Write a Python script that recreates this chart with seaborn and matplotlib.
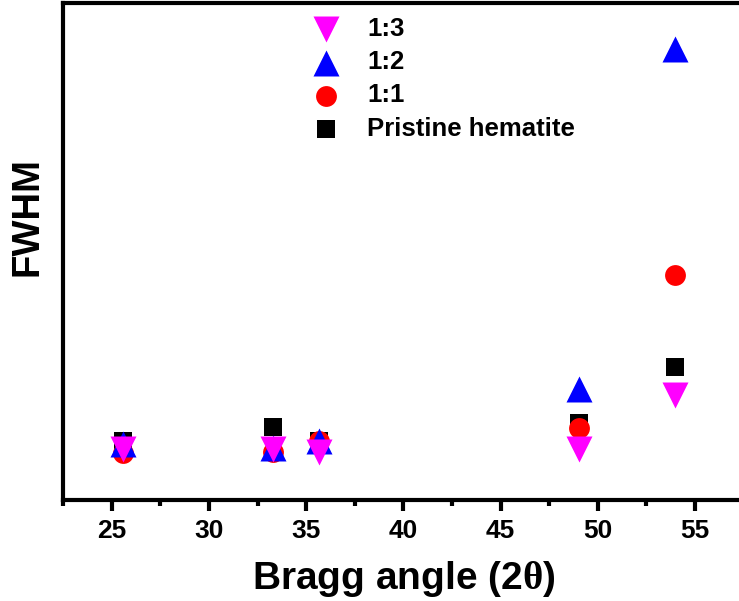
import matplotlib
matplotlib.use("Agg")
import matplotlib.pyplot as plt
import seaborn as sns
from matplotlib.ticker import MultipleLocator

# peak positions (2theta, degrees)
two_theta = [25.6, 33.3, 35.65, 49.05, 54.0]

# FWHM, arbitrary units (axis has no tick labels)
fwhm_pristine = [0.119, 0.147, 0.119, 0.155, 0.267]
fwhm_1_1 = [0.094, 0.096, 0.119, 0.145, 0.452]
fwhm_1_2 = [0.113, 0.105, 0.118, 0.223, 0.907]
fwhm_1_3 = [0.103, 0.103, 0.097, 0.103, 0.212]

series = [
    ("Pristine hematite", fwhm_pristine, "s", "black", 170),
    ("1:1", fwhm_1_1, "o", "red", 225),
    ("1:2", fwhm_1_2, "^", "blue", 350),
    ("1:3", fwhm_1_3, "v", "magenta", 350),
]

sns.set_style("ticks")
plt.rcParams["font.family"] = ["Liberation Sans", "DejaVu Sans"]
plt.rcParams["font.weight"] = "bold"
plt.rcParams["text.color"] = "black"
plt.rcParams["xtick.color"] = "black"
plt.rcParams["axes.labelcolor"] = "black"
plt.rcParams["mathtext.fontset"] = "custom"
plt.rcParams["mathtext.rm"] = "Liberation Serif"

fig = plt.figure(figsize=(7.39, 6.01), dpi=100)
ax = fig.add_axes([63.1 / 739, 101 / 601, 680.4 / 739, 497.5 / 601])

for label, vals, marker, color, size in series:
    sns.scatterplot(x=two_theta, y=vals, marker=marker, color=color, s=size,
                    linewidth=0, ax=ax, label=label, zorder=3)

ax.set_xlim(22.5, 57.5)
ax.set_ylim(0, 1)
ax.xaxis.set_major_locator(MultipleLocator(5))
ax.xaxis.set_minor_locator(MultipleLocator(2.5))
ax.set_yticks([])

for side in ["left", "right", "top", "bottom"]:
    ax.spines[side].set_linewidth(3)
    ax.spines[side].set_color("black")

ax.tick_params(axis="x", which="major", direction="out", length=8, width=3,
               labelsize=19, pad=5.5, colors="black")
ax.tick_params(axis="x", which="minor", direction="out", length=4.5, width=3,
               colors="black")
for lbl in ax.get_xticklabels():
    lbl.set_fontweight("bold")

ax.set_xlabel(r"Bragg angle (2$\mathrm{\theta}$)", fontsize=28, fontweight="bold",
              labelpad=12, color="black")
ax.set_ylabel("FWHM", fontsize=27.5, fontweight="bold", va="center", color="black")
ax.yaxis.set_label_coords((27 - 63.1) / 680.4, (500 - 217) / 497.5)

handles, labels = ax.get_legend_handles_labels()
order = [3, 2, 1, 0]
leg = ax.legend([handles[i] for i in order], [labels[i] for i in order],
                loc="upper left", bbox_to_anchor=(313 / 739, 1 - 17 / 601),
                bbox_transform=fig.transFigure, frameon=False,
                handlelength=1.0, handletextpad=1.1, labelspacing=0.36,
                borderpad=0, borderaxespad=0, prop={"weight": "bold", "size": 18.5})
for t in leg.get_texts():
    t.set_color("black")

fig.savefig("out.png", dpi=100)
